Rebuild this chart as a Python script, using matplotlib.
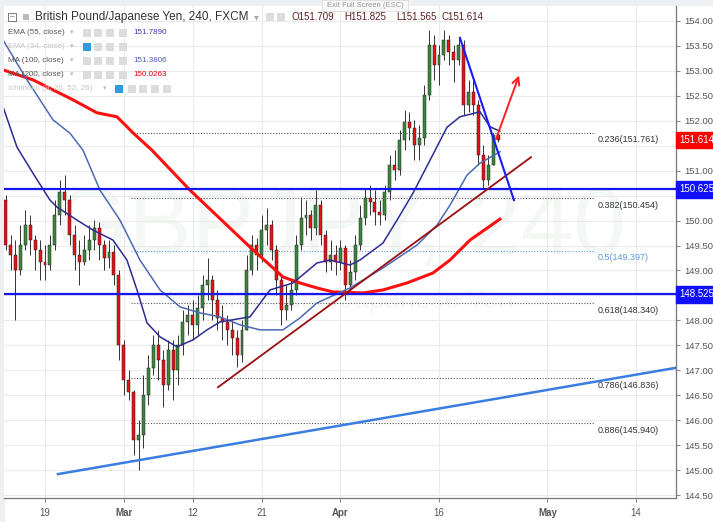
import numpy as np
import matplotlib.pyplot as plt
from matplotlib.patches import Rectangle

plt.rcParams['font.family'] = ['Liberation Sans', 'DejaVu Sans']

# x axis = trading days counted from Feb 19 (12h candles)
candle_day = np.arange(-4, 46.5, 0.5)

opens = [150.41, 149.51, 149.31, 149.01, 149.51, 149.91, 149.61, 149.41, 149.17, 149.11,
         149.51, 150.11, 150.57, 150.41, 149.71, 149.31, 149.17, 149.41, 149.61, 149.85,
         149.51, 149.25, 149.37, 148.91, 147.51, 146.80, 146.56, 145.60, 145.70, 146.50,
         147.05, 147.51, 147.21, 146.70, 147.41, 147.01, 147.51, 147.97, 148.11, 147.91,
         148.25, 148.71, 148.81, 148.41, 148.05, 147.97, 147.81, 147.65, 147.31, 147.81,
         149.01, 149.51, 149.31, 149.81, 149.91, 149.41, 148.81, 148.21, 148.31, 148.61,
         149.51, 150.05, 150.11, 149.85, 150.31, 149.71, 149.17, 149.31, 149.17, 149.45,
         148.71, 148.97, 149.51, 150.05, 150.45, 150.37, 150.17, 150.11, 150.57, 151.11,
         151.01, 151.61, 151.97, 151.85, 151.51, 151.65, 152.52, 153.52, 153.12, 153.32,
         153.62, 153.38, 153.22, 153.52, 152.32, 152.58, 152.32, 151.31, 150.81, 151.11,
         151.709]
highs = [150.51, 149.71, 149.61, 149.91, 150.21, 150.11, 149.71, 149.61, 149.51, 149.71,
         150.41, 150.81, 150.91, 150.51, 149.91, 149.61, 149.71, 149.91, 150.01, 149.97,
         149.61, 149.61, 149.51, 149.01, 147.60, 147.01, 146.60, 146.00, 146.90, 147.31,
         147.71, 147.81, 147.41, 147.61, 147.61, 147.71, 148.21, 148.31, 148.41, 148.51,
         148.91, 149.25, 148.91, 148.61, 148.31, 148.11, 148.01, 147.81, 148.01, 149.31,
         149.71, 149.65, 150.11, 150.25, 150.01, 149.51, 148.91, 148.71, 148.81, 149.71,
         150.47, 150.41, 150.21, 150.61, 150.41, 149.81, 149.61, 149.51, 149.61, 149.51,
         149.21, 149.71, 150.31, 150.65, 150.71, 150.61, 150.41, 150.71, 151.31, 151.41,
         151.81, 152.22, 152.18, 152.02, 151.91, 152.72, 153.82, 153.72, 153.52, 153.82,
         153.72, 153.52, 153.66, 153.62, 152.82, 152.86, 152.42, 151.51, 151.31, 151.76,
         151.825]
lows = [149.41, 149.01, 148.01, 148.91, 149.41, 149.31, 149.01, 148.81, 148.81, 149.01,
        149.41, 149.91, 150.11, 149.51, 149.01, 148.71, 149.11, 149.21, 149.41, 149.21,
        149.01, 149.05, 148.71, 147.21, 146.50, 146.40, 145.30, 145.00, 145.44, 146.30,
        146.90, 146.80, 146.26, 146.60, 146.40, 146.70, 147.31, 147.71, 147.61, 147.71,
        148.01, 148.41, 148.01, 147.81, 147.61, 147.51, 147.31, 147.07, 147.17, 147.81,
        148.91, 149.01, 149.17, 149.51, 149.21, 148.51, 147.91, 148.01, 148.20, 148.51,
        149.41, 149.71, 149.61, 149.71, 149.51, 148.97, 149.01, 148.91, 149.01, 148.41,
        148.57, 148.81, 149.41, 149.91, 150.11, 149.91, 149.91, 150.01, 150.41, 150.81,
        150.91, 151.41, 151.61, 151.21, 151.21, 151.51, 152.42, 152.82, 152.72, 153.22,
        153.12, 152.78, 153.12, 152.12, 152.18, 152.12, 151.11, 150.65, 150.71, 151.11,
        151.565]
closes = [149.51, 149.31, 149.01, 149.51, 149.91, 149.61, 149.41, 149.17, 149.11, 149.51,
          150.11, 150.57, 150.41, 149.71, 149.31, 149.17, 149.41, 149.61, 149.85, 149.51,
          149.25, 149.37, 148.91, 147.51, 146.80, 146.56, 145.60, 145.70, 146.50, 147.05,
          147.51, 147.21, 146.70, 147.41, 147.01, 147.51, 147.97, 148.11, 147.91, 148.25,
          148.71, 148.81, 148.41, 148.05, 147.97, 147.81, 147.65, 147.31, 147.81, 149.01,
          149.51, 149.31, 149.81, 149.91, 149.41, 148.81, 148.21, 148.31, 148.61, 149.51,
          150.05, 150.11, 149.85, 150.31, 149.71, 149.17, 149.31, 149.17, 149.45, 148.71,
          148.97, 149.51, 150.05, 150.45, 150.37, 150.17, 150.11, 150.57, 151.11, 151.01,
          151.61, 151.97, 151.85, 151.51, 151.65, 152.52, 153.52, 153.12, 153.32, 153.62,
          153.38, 153.22, 153.52, 152.32, 152.58, 152.32, 151.31, 150.81, 151.11, 151.71,
          151.614]

# moving averages
ema55_day = [-4.26, -2.84, -1.22, 0.51, 1.22, 3.25, 4.87, 6.90, 8.32, 9.34, 10.36, 11.68,
             13.40, 15.03, 16.45, 17.77, 20.81, 22.84, 25.18, 27.61, 28.93, 30.96, 31.98,
             34.31, 35.74, 37.36, 39.09, 40.81, 42.13, 44.16, 45.18, 46.19]
ema55_val = [152.28, 151.47, 150.95, 150.41, 150.27, 150.01, 149.81, 149.61, 149.21, 148.61,
             147.95, 147.67, 147.47, 147.61, 147.81, 147.97, 148.07, 148.61, 148.75, 149.15,
             149.21, 149.11, 149.21, 149.55, 150.01, 150.55, 151.21, 151.87, 152.08, 152.18,
             151.88, 151.79]
ma100_day = [-4.26, -1.83, -0.51, 0.81, 2.54, 3.86, 5.58, 7.61, 9.64, 11.68, 13.71, 15.74,
             17.77, 19.80, 21.83, 24.16, 25.89, 27.61, 30.96, 34.31, 37.77, 39.80, 41.12,
             42.84, 44.16, 46.19]
ma100_val = [153.62, 152.82, 152.42, 152.02, 151.75, 151.41, 150.61, 150.01, 149.21, 148.61,
             148.27, 148.15, 148.07, 147.91, 147.81, 147.81, 148.05, 148.35, 148.65, 149.05,
             149.51, 149.91, 150.31, 150.91, 151.15, 151.38]
ma200_day = [-4.26, -1.22, 2.84, 5.28, 7.31, 8.93, 10.86, 14.72, 20.81, 24.16, 25.89, 27.61,
             29.24, 32.28, 34.31, 36.75, 39.39, 41.12, 43.15, 46.19]
ma200_val = [153.02, 152.82, 152.42, 152.16, 152.08, 151.76, 151.41, 150.61, 149.47, 148.87,
             148.75, 148.65, 148.57, 148.55, 148.61, 148.75, 148.95, 149.21, 149.61, 150.03]

fib_ratio = ['0.236', '0.382', '0.5', '0.618', '0.786', '0.886']
fib_price = [151.761, 150.454, 149.397, 148.340, 146.836, 145.940]
fib_start, fib_end = 8.7, 55.85

hlines = [150.625, 148.525]
last_price = 151.614

tick_day = [0, 8, 15, 22, 30, 40, 51, 60]
tick_label = ['19', 'Mar', '12', '21', 'Apr', '16', 'May', '14']

W, H = 713, 522
fig = plt.figure(figsize=(W / 100, H / 100), dpi=100)
fig.patch.set_facecolor('white')


def fx(x):
    return x / W


def fy(y):
    return 1 - y / H


ax = fig.add_axes([fx(4), fy(498), 672 / W, 492 / H])
ax.set_xlim(-4.16, 64.06)
ax.set_ylim(144.441, 154.30)

# faint watermark
ax.text(0.5, 0.545, 'GBPJPY, 240', transform=ax.transAxes, ha='center', va='center',
        fontsize=68, color='#f4f8f4', zorder=0)
ax.text(0.5, 0.40, 'British Pound/Japanese Yen', transform=ax.transAxes, ha='center',
        va='center', fontsize=20, color='#f4f8f4', zorder=0)

ax.grid(color='#ebebeb', lw=0.8)
ax.set_axisbelow(True)

# candles
cols = ['#3b873b' if c >= o else '#e81212' for o, c in zip(opens, closes)]
ax.vlines(candle_day, lows, highs, color='#333333', lw=0.7, zorder=3)
ax.bar(candle_day, np.array(closes) - np.array(opens), bottom=opens, width=0.3,
       color=cols, edgecolor='#222222', lw=0.35, zorder=4)

# moving averages
ax.plot(ma200_day, ma200_val, color='#ff1010', lw=2.2, zorder=5)
ax.plot(ma100_day, ma100_val, color='#4a6ab4', lw=1.1, zorder=5)
ax.plot(ema55_day, ema55_val, color='#2c2c92', lw=1.1, zorder=5)

# horizontal support/resistance
for lv in hlines:
    ax.axhline(lv, color='#1515ee', lw=1.6, zorder=6)

# fibonacci levels
for r, p in zip(fib_ratio, fib_price):
    c = '#5b9be0' if r == '0.5' else '#555555'
    tc = '#5b9be0' if r == '0.5' else '#333333'
    ax.plot([fib_start, fib_end], [p, p], color=c, lw=0.8, ls=(0, (1, 1.5)), zorder=2)
    ax.annotate(f'{r}({p:.3f})', xy=(fib_end + 0.3, p), xytext=(0, -2),
                textcoords='offset points', ha='left', va='top', fontsize=6.5, color=tc)

# trend lines
ax.plot([1.32, 64.06], [144.92, 147.05], color='#3a7de0', lw=1.8, zorder=6)
ax.plot([17.56, 49.34], [146.66, 151.27], color='#9b0e0e', lw=1.3, zorder=6)
ax.plot([42.13, 47.61], [153.66, 150.41], color='#1a1aff', lw=1.5, zorder=6)
ax.annotate('', xy=(48.22, 152.96), xytext=(45.69, 151.58),
            arrowprops=dict(arrowstyle='->', color='#ff2020', lw=1.4, mutation_scale=13),
            zorder=7)

# axes styling
for s in ['top', 'left']:
    ax.spines[s].set_visible(False)
for s in ['right', 'bottom']:
    ax.spines[s].set_color('#777777')
    ax.spines[s].set_linewidth(0.9)
ax.yaxis.tick_right()
yt = np.arange(144.5, 154.01, 0.5)
ax.set_yticks(yt)
ax.set_yticklabels([f'{v:.3f}' for v in yt])
ax.tick_params(axis='y', direction='out', length=3, color='#888888', labelsize=6.8,
               labelcolor='#555555', pad=3)
ax.set_xticks(tick_day)
ax.set_xticklabels(tick_label)
ax.tick_params(axis='x', direction='out', length=3, color='#888888', labelsize=7,
               labelcolor='#555555', pad=4)
for t in ax.get_xticklabels():
    if t.get_text() in ('Mar', 'Apr', 'May'):
        t.set_fontweight('bold')

# price boxes on the right scale
for lv, fc in [(last_price, '#ff0000'), (hlines[0], '#1010ff'), (hlines[1], '#1010ff')]:
    ax.annotate(f'{lv:.3f}', xy=(1.0, lv), xycoords=('axes fraction', 'data'),
                xytext=(2.5, 0), textcoords='offset points', ha='left', va='center',
                fontsize=7, color='white', zorder=10, annotation_clip=False,
                bbox=dict(boxstyle='square,pad=0.35', fc=fc, ec=fc))

# header / legend in pixel positions
fig.add_artist(Rectangle((0, fy(5)), 1, 5 / H, transform=fig.transFigure,
                         color='#edf0f3', zorder=0))
fig.add_artist(Rectangle((0, 0), fx(4), 1, transform=fig.transFigure,
                         color='#edf0f3', zorder=0))
fig.add_artist(Rectangle((fx(322), fy(11)), 86 / W, 11 / H, transform=fig.transFigure,
                         fc='#f9f9f9', ec='#dddddd', lw=0.6, zorder=20))
fig.text(fx(365), fy(5.5), 'Exit Full Screen (ESC)', ha='center', va='center',
         fontsize=5.5, color='#999999', zorder=21)


def icon(x, y, c='#dcdcdc', s=8):
    fig.add_artist(Rectangle((fx(x), fy(y + s / 2)), s / W, s / H,
                             transform=fig.transFigure, fc=c, ec='none', zorder=20))


fig.add_artist(Rectangle((fx(8), fy(21)), 8 / W, 8 / H, transform=fig.transFigure,
                         fc='white', ec='#777777', lw=0.7, zorder=20))
fig.text(fx(12), fy(17), '\u2013', ha='center', va='center', fontsize=6, color='#555555',
         zorder=21)
icon(23, 17, '#bbbbbb', 6)
fig.text(fx(35), fy(17), 'British Pound/Japanese Yen, 240, FXCM', ha='left', va='center',
         fontsize=8.5, color='#333333')
fig.text(fx(256), fy(17), '\u25be', ha='center', va='center', fontsize=7, color='#aaaaaa')
icon(266, 17)
icon(277, 17)
ohlc = ['O151.709', 'H151.825', 'L151.565', 'C151.614']
for xx, s in zip([292, 344, 396, 442], ohlc):
    fig.text(fx(xx), fy(17), s, ha='left', va='center', fontsize=7.0, color='#5e1d1d')

legend_rows = [
    ('EMA (55, close)', 33, '#555555', '151.7890', '#3b3ba8', False),
    ('EMA (34, close)', 47, '#c4c4c4', '', '', True),
    ('MA (100, close)', 61, '#555555', '151.3806', '#4a5cb5', False),
    ('MA (200, close)', 75, '#555555', '150.0263', '#ee0000', False),
]
for name, yy, c, val, vc, hidden in legend_rows:
    fig.text(fx(8), fy(yy), name, ha='left', va='center', fontsize=5.8, color=c)
    fig.text(fx(72), fy(yy), '\u25be', ha='center', va='center', fontsize=5, color='#bbbbbb')
    for k, xx in enumerate([83, 94, 106, 119]):
        icon(xx, yy, '#2d9be0' if (hidden and k == 0) else '#dcdcdc')
    if val:
        fig.text(fx(133), fy(yy), val, ha='left', va='center', fontsize=5.8, color=vc)
fig.text(fx(8), fy(89), 'Ichimoku (9, 26, 52, 26)', ha='left', va='center',
         fontsize=5.8, color='#c4c4c4')
fig.text(fx(105), fy(89), '\u25be', ha='center', va='center', fontsize=5, color='#bbbbbb')
for k, xx in enumerate([115, 128, 139, 151, 163]):
    icon(xx, 89, '#2d9be0' if k == 0 else '#dcdcdc')

fig.savefig('out.png', dpi=100)
